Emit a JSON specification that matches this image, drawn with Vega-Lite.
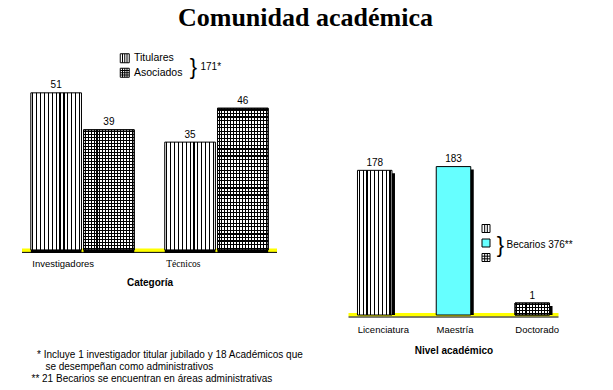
{
  "$schema": "https://vega.github.io/schema/vega-lite/v6.json",
  "background": "white",
  "padding": {"left": 20, "top": 5, "right": 0, "bottom": 0},
  "title": {"text": "Comunidad académica", "font": "Liberation Serif", "fontSize": 26, "fontWeight": "bold", "color": "black", "anchor": "middle", "frame": "bounds", "dx": 9, "offset": 8},
  "bounds": "flush",
  "spacing": 71.5,
  "resolve": {"scale": {"shape": "independent", "fill": "independent", "stroke": "independent"}, "legend": {"shape": "independent", "fill": "independent", "stroke": "independent"}},
  "config": {
    "view": {"stroke": null},
    "axis": {"titleFont": "Liberation Sans", "labelColor": "black", "titleColor": "black"}
  },
  "hconcat": [
    {
      "width": 255,
      "height": 214,
      "title": {
        "text": ["\u200b\u00a0\u00a0* Incluye 1 investigador titular jubilado y 18 Académicos que", "\u200b\u00a0\u00a0\u00a0\u00a0\u00a0se desempeñan como administrativos", "** 21 Becarios se encuentran en áreas administrativas"],
        "orient": "bottom", "anchor": "start", "frame": "group", "dx": 9.5, "offset": 62,
        "font": "Liberation Sans", "fontSize": 10, "fontWeight": "normal", "color": "black", "lineHeight": 12
      },
      "layer": [
        {"data": {"values": [{}]}, "mark": {"type": "rule", "color": "#FFFF00", "strokeWidth": 3.5}, "encoding": {"y": {"datum": -0.13, "type": "quantitative", "axis": null}}},
        {"data": {"values": [{}]}, "mark": {"type": "rule", "color": "black", "strokeWidth": 1}, "encoding": {"y": {"datum": -0.8, "type": "quantitative", "axis": null}}},
        {
          "data": {"values": [
            {"categoria": "Investigadores", "tipo": "Titulares", "n": 51},
            {"categoria": "Investigadores", "tipo": "Asociados", "n": 39},
            {"categoria": "Técnicos", "tipo": "Titulares", "n": 35},
            {"categoria": "Técnicos", "tipo": "Asociados", "n": 46}
          ]},
          "encoding": {
            "x": {"field": "categoria", "type": "nominal", "scale": {"domain": ["Investigadores", "Técnicos"], "paddingInner": 0.228, "paddingOuter": 0.066},
              "axis": {"title": "Categoría", "titleFontSize": 10, "titleFontWeight": "bold", "titlePadding": 10, "labelAngle": 0, "labelAlign": "left", "labelOffset": -50.2, "labelPadding": 5, "labelFontSize": 9.5, "labelFont": {"expr": "datum.value === 'Técnicos' ? 'Liberation Serif' : 'Liberation Sans'"}, "ticks": false, "domain": false, "grid": false}},
            "xOffset": {"field": "tipo", "type": "nominal", "scale": {"domain": ["Titulares", "Asociados"], "paddingInner": 0.04, "paddingOuter": 0}},
            "y": {"field": "n", "type": "quantitative", "scale": {"domain": [-1, 68.48], "nice": false}, "axis": null}
          },
          "layer": [
            {"mark": {"type": "point", "opacity": 0, "filled": false, "color": "black", "strokeWidth": 1},
             "encoding": {"shape": {"field": "tipo", "type": "nominal",
               "scale": {"domain": ["Titulares", "Asociados"], "range": ["M-1,-1H1V1H-1Z M-0.5,-1V1 M0,-1V1 M0.5,-1V1", "M-1,-1H1V1H-1Z M-0.5,-1V1 M0,-1V1 M0.5,-1V1 M-1,-0.5H1 M-1,0H1 M-1,0.5H1"]},
               "legend": {"orient": "none", "legendX": 97.5, "legendY": 14, "title": null, "padding": 0, "symbolSize": 81, "symbolOpacity": 1, "symbolFillColor": "white", "symbolStrokeColor": "black", "symbolStrokeWidth": 1, "labelFont": "Liberation Sans", "labelFontSize": 10.5, "labelColor": "black", "labelOffset": 4, "rowPadding": 0.5}}}},
            {"mark": {"type": "bar", "fill": "black", "xOffset": 3, "yOffset": 3}},
            {"transform": [{"filter": "datum.tipo === 'Titulares'"}],
             "mark": {"type": "bar", "stroke": "black", "strokeWidth": 1, "fill": {"gradient": "linear", "x1": 0, "y1": 0, "x2": 1, "y2": 0, "stops": [
               {"offset": 0, "color": "white"},
               {"offset": 0.0269, "color": "white"}, {"offset": 0.0269, "color": "black"}, {"offset": 0.05, "color": "black"}, {"offset": 0.05, "color": "white"},
               {"offset": 0.1038, "color": "white"}, {"offset": 0.1038, "color": "black"}, {"offset": 0.1269, "color": "black"}, {"offset": 0.1269, "color": "white"},
               {"offset": 0.1808, "color": "white"}, {"offset": 0.1808, "color": "black"}, {"offset": 0.2038, "color": "black"}, {"offset": 0.2038, "color": "white"},
               {"offset": 0.2577, "color": "white"}, {"offset": 0.2577, "color": "black"}, {"offset": 0.2808, "color": "black"}, {"offset": 0.2808, "color": "white"},
               {"offset": 0.3346, "color": "white"}, {"offset": 0.3346, "color": "black"}, {"offset": 0.3577, "color": "black"}, {"offset": 0.3577, "color": "white"},
               {"offset": 0.4115, "color": "white"}, {"offset": 0.4115, "color": "black"}, {"offset": 0.4346, "color": "black"}, {"offset": 0.4346, "color": "white"},
               {"offset": 0.4885, "color": "white"}, {"offset": 0.4885, "color": "black"}, {"offset": 0.5115, "color": "black"}, {"offset": 0.5115, "color": "white"},
               {"offset": 0.5654, "color": "white"}, {"offset": 0.5654, "color": "black"}, {"offset": 0.5885, "color": "black"}, {"offset": 0.5885, "color": "white"},
               {"offset": 0.6423, "color": "white"}, {"offset": 0.6423, "color": "black"}, {"offset": 0.6654, "color": "black"}, {"offset": 0.6654, "color": "white"},
               {"offset": 0.7192, "color": "white"}, {"offset": 0.7192, "color": "black"}, {"offset": 0.7423, "color": "black"}, {"offset": 0.7423, "color": "white"},
               {"offset": 0.7962, "color": "white"}, {"offset": 0.7962, "color": "black"}, {"offset": 0.8192, "color": "black"}, {"offset": 0.8192, "color": "white"},
               {"offset": 0.8731, "color": "white"}, {"offset": 0.8731, "color": "black"}, {"offset": 0.8962, "color": "black"}, {"offset": 0.8962, "color": "white"},
               {"offset": 0.95, "color": "white"}, {"offset": 0.95, "color": "black"}, {"offset": 0.9731, "color": "black"}, {"offset": 0.9731, "color": "white"},
               {"offset": 1, "color": "white"}]}}},
            {"transform": [{"filter": "datum.tipo === 'Asociados'"}],
             "mark": {"type": "bar", "stroke": "black", "strokeWidth": 1, "fill": {"gradient": "linear", "x1": 0, "y1": 0, "x2": 1, "y2": 0, "stops": [
               {"offset": 0, "color": "white"},
               {"offset": 0.0194, "color": "white"}, {"offset": 0.0194, "color": "black"}, {"offset": 0.0394, "color": "black"}, {"offset": 0.0394, "color": "white"},
               {"offset": 0.0782, "color": "white"}, {"offset": 0.0782, "color": "black"}, {"offset": 0.0982, "color": "black"}, {"offset": 0.0982, "color": "white"},
               {"offset": 0.1371, "color": "white"}, {"offset": 0.1371, "color": "black"}, {"offset": 0.1571, "color": "black"}, {"offset": 0.1571, "color": "white"},
               {"offset": 0.1959, "color": "white"}, {"offset": 0.1959, "color": "black"}, {"offset": 0.2159, "color": "black"}, {"offset": 0.2159, "color": "white"},
               {"offset": 0.2547, "color": "white"}, {"offset": 0.2547, "color": "black"}, {"offset": 0.2747, "color": "black"}, {"offset": 0.2747, "color": "white"},
               {"offset": 0.3135, "color": "white"}, {"offset": 0.3135, "color": "black"}, {"offset": 0.3335, "color": "black"}, {"offset": 0.3335, "color": "white"},
               {"offset": 0.3724, "color": "white"}, {"offset": 0.3724, "color": "black"}, {"offset": 0.3924, "color": "black"}, {"offset": 0.3924, "color": "white"},
               {"offset": 0.4312, "color": "white"}, {"offset": 0.4312, "color": "black"}, {"offset": 0.4512, "color": "black"}, {"offset": 0.4512, "color": "white"},
               {"offset": 0.49, "color": "white"}, {"offset": 0.49, "color": "black"}, {"offset": 0.51, "color": "black"}, {"offset": 0.51, "color": "white"},
               {"offset": 0.5488, "color": "white"}, {"offset": 0.5488, "color": "black"}, {"offset": 0.5688, "color": "black"}, {"offset": 0.5688, "color": "white"},
               {"offset": 0.6076, "color": "white"}, {"offset": 0.6076, "color": "black"}, {"offset": 0.6276, "color": "black"}, {"offset": 0.6276, "color": "white"},
               {"offset": 0.6665, "color": "white"}, {"offset": 0.6665, "color": "black"}, {"offset": 0.6865, "color": "black"}, {"offset": 0.6865, "color": "white"},
               {"offset": 0.7253, "color": "white"}, {"offset": 0.7253, "color": "black"}, {"offset": 0.7453, "color": "black"}, {"offset": 0.7453, "color": "white"},
               {"offset": 0.7841, "color": "white"}, {"offset": 0.7841, "color": "black"}, {"offset": 0.8041, "color": "black"}, {"offset": 0.8041, "color": "white"},
               {"offset": 0.8429, "color": "white"}, {"offset": 0.8429, "color": "black"}, {"offset": 0.8629, "color": "black"}, {"offset": 0.8629, "color": "white"},
               {"offset": 0.9018, "color": "white"}, {"offset": 0.9018, "color": "black"}, {"offset": 0.9218, "color": "black"}, {"offset": 0.9218, "color": "white"},
               {"offset": 0.9606, "color": "white"}, {"offset": 0.9606, "color": "black"}, {"offset": 0.9806, "color": "black"}, {"offset": 0.9806, "color": "white"},
               {"offset": 1, "color": "white"}]}}},
            {"transform": [{"filter": "datum.tipo === 'Asociados'"}],
             "mark": {"type": "bar", "stroke": "black", "strokeWidth": 1, "fill": {"gradient": "linear", "x1": 0, "y1": 0, "x2": 0, "y2": 1, "stops": [
               {"offset": 0, "color": "rgba(0,0,0,0)"},
               {"offset": 0.00825, "color": "rgba(0,0,0,0)"}, {"offset": 0.00825, "color": "black"}, {"offset": 0.01675, "color": "black"}, {"offset": 0.01675, "color": "rgba(0,0,0,0)"},
               {"offset": 0.03325, "color": "rgba(0,0,0,0)"}, {"offset": 0.03325, "color": "black"}, {"offset": 0.04175, "color": "black"}, {"offset": 0.04175, "color": "rgba(0,0,0,0)"},
               {"offset": 0.05825, "color": "rgba(0,0,0,0)"}, {"offset": 0.05825, "color": "black"}, {"offset": 0.06675, "color": "black"}, {"offset": 0.06675, "color": "rgba(0,0,0,0)"},
               {"offset": 0.08325, "color": "rgba(0,0,0,0)"}, {"offset": 0.08325, "color": "black"}, {"offset": 0.09175, "color": "black"}, {"offset": 0.09175, "color": "rgba(0,0,0,0)"},
               {"offset": 0.10825, "color": "rgba(0,0,0,0)"}, {"offset": 0.10825, "color": "black"}, {"offset": 0.11675, "color": "black"}, {"offset": 0.11675, "color": "rgba(0,0,0,0)"},
               {"offset": 0.13325, "color": "rgba(0,0,0,0)"}, {"offset": 0.13325, "color": "black"}, {"offset": 0.14175, "color": "black"}, {"offset": 0.14175, "color": "rgba(0,0,0,0)"},
               {"offset": 0.15825, "color": "rgba(0,0,0,0)"}, {"offset": 0.15825, "color": "black"}, {"offset": 0.16675, "color": "black"}, {"offset": 0.16675, "color": "rgba(0,0,0,0)"},
               {"offset": 0.18325, "color": "rgba(0,0,0,0)"}, {"offset": 0.18325, "color": "black"}, {"offset": 0.19175, "color": "black"}, {"offset": 0.19175, "color": "rgba(0,0,0,0)"},
               {"offset": 0.20825, "color": "rgba(0,0,0,0)"}, {"offset": 0.20825, "color": "black"}, {"offset": 0.21675, "color": "black"}, {"offset": 0.21675, "color": "rgba(0,0,0,0)"},
               {"offset": 0.23325, "color": "rgba(0,0,0,0)"}, {"offset": 0.23325, "color": "black"}, {"offset": 0.24175, "color": "black"}, {"offset": 0.24175, "color": "rgba(0,0,0,0)"},
               {"offset": 0.25825, "color": "rgba(0,0,0,0)"}, {"offset": 0.25825, "color": "black"}, {"offset": 0.26675, "color": "black"}, {"offset": 0.26675, "color": "rgba(0,0,0,0)"},
               {"offset": 0.28325, "color": "rgba(0,0,0,0)"}, {"offset": 0.28325, "color": "black"}, {"offset": 0.29175, "color": "black"}, {"offset": 0.29175, "color": "rgba(0,0,0,0)"},
               {"offset": 0.30825, "color": "rgba(0,0,0,0)"}, {"offset": 0.30825, "color": "black"}, {"offset": 0.31675, "color": "black"}, {"offset": 0.31675, "color": "rgba(0,0,0,0)"},
               {"offset": 0.33325, "color": "rgba(0,0,0,0)"}, {"offset": 0.33325, "color": "black"}, {"offset": 0.34175, "color": "black"}, {"offset": 0.34175, "color": "rgba(0,0,0,0)"},
               {"offset": 0.35825, "color": "rgba(0,0,0,0)"}, {"offset": 0.35825, "color": "black"}, {"offset": 0.36675, "color": "black"}, {"offset": 0.36675, "color": "rgba(0,0,0,0)"},
               {"offset": 0.38325, "color": "rgba(0,0,0,0)"}, {"offset": 0.38325, "color": "black"}, {"offset": 0.39175, "color": "black"}, {"offset": 0.39175, "color": "rgba(0,0,0,0)"},
               {"offset": 0.40825, "color": "rgba(0,0,0,0)"}, {"offset": 0.40825, "color": "black"}, {"offset": 0.41675, "color": "black"}, {"offset": 0.41675, "color": "rgba(0,0,0,0)"},
               {"offset": 0.43325, "color": "rgba(0,0,0,0)"}, {"offset": 0.43325, "color": "black"}, {"offset": 0.44175, "color": "black"}, {"offset": 0.44175, "color": "rgba(0,0,0,0)"},
               {"offset": 0.45825, "color": "rgba(0,0,0,0)"}, {"offset": 0.45825, "color": "black"}, {"offset": 0.46675, "color": "black"}, {"offset": 0.46675, "color": "rgba(0,0,0,0)"},
               {"offset": 0.48325, "color": "rgba(0,0,0,0)"}, {"offset": 0.48325, "color": "black"}, {"offset": 0.49175, "color": "black"}, {"offset": 0.49175, "color": "rgba(0,0,0,0)"},
               {"offset": 0.50825, "color": "rgba(0,0,0,0)"}, {"offset": 0.50825, "color": "black"}, {"offset": 0.51675, "color": "black"}, {"offset": 0.51675, "color": "rgba(0,0,0,0)"},
               {"offset": 0.53325, "color": "rgba(0,0,0,0)"}, {"offset": 0.53325, "color": "black"}, {"offset": 0.54175, "color": "black"}, {"offset": 0.54175, "color": "rgba(0,0,0,0)"},
               {"offset": 0.55825, "color": "rgba(0,0,0,0)"}, {"offset": 0.55825, "color": "black"}, {"offset": 0.56675, "color": "black"}, {"offset": 0.56675, "color": "rgba(0,0,0,0)"},
               {"offset": 0.58325, "color": "rgba(0,0,0,0)"}, {"offset": 0.58325, "color": "black"}, {"offset": 0.59175, "color": "black"}, {"offset": 0.59175, "color": "rgba(0,0,0,0)"},
               {"offset": 0.60825, "color": "rgba(0,0,0,0)"}, {"offset": 0.60825, "color": "black"}, {"offset": 0.61675, "color": "black"}, {"offset": 0.61675, "color": "rgba(0,0,0,0)"},
               {"offset": 0.63325, "color": "rgba(0,0,0,0)"}, {"offset": 0.63325, "color": "black"}, {"offset": 0.64175, "color": "black"}, {"offset": 0.64175, "color": "rgba(0,0,0,0)"},
               {"offset": 0.65825, "color": "rgba(0,0,0,0)"}, {"offset": 0.65825, "color": "black"}, {"offset": 0.66675, "color": "black"}, {"offset": 0.66675, "color": "rgba(0,0,0,0)"},
               {"offset": 0.68325, "color": "rgba(0,0,0,0)"}, {"offset": 0.68325, "color": "black"}, {"offset": 0.69175, "color": "black"}, {"offset": 0.69175, "color": "rgba(0,0,0,0)"},
               {"offset": 0.70825, "color": "rgba(0,0,0,0)"}, {"offset": 0.70825, "color": "black"}, {"offset": 0.71675, "color": "black"}, {"offset": 0.71675, "color": "rgba(0,0,0,0)"},
               {"offset": 0.73325, "color": "rgba(0,0,0,0)"}, {"offset": 0.73325, "color": "black"}, {"offset": 0.74175, "color": "black"}, {"offset": 0.74175, "color": "rgba(0,0,0,0)"},
               {"offset": 0.75825, "color": "rgba(0,0,0,0)"}, {"offset": 0.75825, "color": "black"}, {"offset": 0.76675, "color": "black"}, {"offset": 0.76675, "color": "rgba(0,0,0,0)"},
               {"offset": 0.78325, "color": "rgba(0,0,0,0)"}, {"offset": 0.78325, "color": "black"}, {"offset": 0.79175, "color": "black"}, {"offset": 0.79175, "color": "rgba(0,0,0,0)"},
               {"offset": 0.80825, "color": "rgba(0,0,0,0)"}, {"offset": 0.80825, "color": "black"}, {"offset": 0.81675, "color": "black"}, {"offset": 0.81675, "color": "rgba(0,0,0,0)"},
               {"offset": 0.83325, "color": "rgba(0,0,0,0)"}, {"offset": 0.83325, "color": "black"}, {"offset": 0.84175, "color": "black"}, {"offset": 0.84175, "color": "rgba(0,0,0,0)"},
               {"offset": 0.85825, "color": "rgba(0,0,0,0)"}, {"offset": 0.85825, "color": "black"}, {"offset": 0.86675, "color": "black"}, {"offset": 0.86675, "color": "rgba(0,0,0,0)"},
               {"offset": 0.88325, "color": "rgba(0,0,0,0)"}, {"offset": 0.88325, "color": "black"}, {"offset": 0.89175, "color": "black"}, {"offset": 0.89175, "color": "rgba(0,0,0,0)"},
               {"offset": 0.90825, "color": "rgba(0,0,0,0)"}, {"offset": 0.90825, "color": "black"}, {"offset": 0.91675, "color": "black"}, {"offset": 0.91675, "color": "rgba(0,0,0,0)"},
               {"offset": 0.93325, "color": "rgba(0,0,0,0)"}, {"offset": 0.93325, "color": "black"}, {"offset": 0.94175, "color": "black"}, {"offset": 0.94175, "color": "rgba(0,0,0,0)"},
               {"offset": 0.95825, "color": "rgba(0,0,0,0)"}, {"offset": 0.95825, "color": "black"}, {"offset": 0.96675, "color": "black"}, {"offset": 0.96675, "color": "rgba(0,0,0,0)"},
               {"offset": 0.98325, "color": "rgba(0,0,0,0)"}, {"offset": 0.98325, "color": "black"}, {"offset": 0.99175, "color": "black"}, {"offset": 0.99175, "color": "rgba(0,0,0,0)"},
               {"offset": 1, "color": "rgba(0,0,0,0)"}]}}},
            {"mark": {"type": "text", "dy": -7.5, "fontSize": 10, "font": "Liberation Sans", "color": "black"},
             "encoding": {"text": {"field": "n", "type": "quantitative"}}}
          ]
        },
        {"data": {"values": [{}]}, "mark": {"type": "text", "text": "}", "fontSize": 22, "font": "Liberation Sans", "align": "center", "baseline": "middle", "dx": 44, "color": "black"},
         "encoding": {"y": {"datum": 59.4, "type": "quantitative", "axis": null}}},
        {"data": {"values": [{}]}, "mark": {"type": "text", "text": "171*", "fontSize": 10, "font": "Liberation Sans", "align": "left", "baseline": "middle", "dx": 51, "color": "black"},
         "encoding": {"y": {"datum": 59.4, "type": "quantitative", "axis": null}}}
      ]
    },
    {
      "width": 210,
      "height": 279,
      "layer": [
        {"data": {"values": [{}]}, "mark": {"type": "rule", "color": "#FFFF00", "strokeWidth": 3.5}, "encoding": {"y": {"datum": -14.7, "type": "quantitative", "axis": null}}},
        {"data": {"values": [{}]}, "mark": {"type": "rule", "color": "black", "strokeWidth": 1}, "encoding": {"y": {"datum": -17.7, "type": "quantitative", "axis": null}}},
        {
          "data": {"values": [
            {"nivel": "Licenciatura", "n": 178},
            {"nivel": "Maestría", "n": 183},
            {"nivel": "Doctorado", "n": 1}
          ]},
          "encoding": {
            "x": {"field": "nivel", "type": "nominal", "scale": {"domain": ["Licenciatura", "Maestría", "Doctorado"], "paddingInner": 0.562, "paddingOuter": 0.114},
              "axis": {"title": "Nivel académico", "titleFontSize": 10, "titleFontWeight": "bold", "titlePadding": 12, "labelAngle": 0, "labelAlign": "left", "labelOffset": -17, "labelPadding": 6, "labelFontSize": 9.5, "labelFont": "Liberation Sans", "ticks": false, "domain": false, "grid": false}},
            "y": {"field": "n", "type": "quantitative", "scale": {"domain": [-19, 353.2], "nice": false, "zero": false}, "axis": null}
          },
          "layer": [
            {"mark": {"type": "point", "opacity": 0, "filled": true, "strokeWidth": 1},
             "encoding": {
               "shape": {"field": "nivel", "type": "nominal",
                 "scale": {"domain": ["Licenciatura", "Maestría", "Doctorado"], "range": ["M-1,-1H1V1H-1Z M-0.33,-1V1 M0.33,-1V1", "square", "M-1,-1H1V1H-1Z M-0.33,-1V1 M0.33,-1V1 M-1,-0.33H1 M-1,0.33H1"]},
                 "legend": {"orient": "none", "legendX": 133, "legendY": 185, "title": null, "padding": 0, "symbolSize": 64, "symbolOpacity": 1, "symbolStrokeWidth": 1, "labelExpr": "''", "labelFontSize": 9, "rowPadding": 1.5}},
               "fill": {"field": "nivel", "type": "nominal",
                 "scale": {"domain": ["Licenciatura", "Maestría", "Doctorado"], "range": ["white", "#66FFFF", "white"]},
                 "legend": {"orient": "none", "legendX": 133, "legendY": 185, "title": null, "padding": 0, "symbolSize": 64, "symbolOpacity": 1, "symbolStrokeWidth": 1, "labelExpr": "''", "labelFontSize": 9, "rowPadding": 1.5}},
               "stroke": {"field": "nivel", "type": "nominal",
                 "scale": {"domain": ["Licenciatura", "Maestría", "Doctorado"], "range": ["black", "black", "black"]},
                 "legend": {"orient": "none", "legendX": 133, "legendY": 185, "title": null, "padding": 0, "symbolSize": 64, "symbolOpacity": 1, "symbolStrokeWidth": 1, "labelExpr": "''", "labelFontSize": 9, "rowPadding": 1.5}}}},
            {"mark": {"type": "bar", "fill": "black", "xOffset": 3, "yOffset": 3},
             "encoding": {"y2": {"datum": -15}}},
            {"transform": [{"filter": "datum.nivel === 'Licenciatura'"}],
             "mark": {"type": "bar", "stroke": "black", "strokeWidth": 1, "fill": {"gradient": "linear", "x1": 0, "y1": 0, "x2": 1, "y2": 0, "stops": [
               {"offset": 0, "color": "white"},
               {"offset": 0.0389, "color": "white"}, {"offset": 0.0389, "color": "black"}, {"offset": 0.0722, "color": "black"}, {"offset": 0.0722, "color": "white"},
               {"offset": 0.15, "color": "white"}, {"offset": 0.15, "color": "black"}, {"offset": 0.1833, "color": "black"}, {"offset": 0.1833, "color": "white"},
               {"offset": 0.2611, "color": "white"}, {"offset": 0.2611, "color": "black"}, {"offset": 0.2944, "color": "black"}, {"offset": 0.2944, "color": "white"},
               {"offset": 0.3722, "color": "white"}, {"offset": 0.3722, "color": "black"}, {"offset": 0.4056, "color": "black"}, {"offset": 0.4056, "color": "white"},
               {"offset": 0.4833, "color": "white"}, {"offset": 0.4833, "color": "black"}, {"offset": 0.5167, "color": "black"}, {"offset": 0.5167, "color": "white"},
               {"offset": 0.5944, "color": "white"}, {"offset": 0.5944, "color": "black"}, {"offset": 0.6278, "color": "black"}, {"offset": 0.6278, "color": "white"},
               {"offset": 0.7056, "color": "white"}, {"offset": 0.7056, "color": "black"}, {"offset": 0.7389, "color": "black"}, {"offset": 0.7389, "color": "white"},
               {"offset": 0.8167, "color": "white"}, {"offset": 0.8167, "color": "black"}, {"offset": 0.85, "color": "black"}, {"offset": 0.85, "color": "white"},
               {"offset": 0.9278, "color": "white"}, {"offset": 0.9278, "color": "black"}, {"offset": 0.9611, "color": "black"}, {"offset": 0.9611, "color": "white"},
               {"offset": 1, "color": "white"}]}},
             "encoding": {"y2": {"datum": -15}}},
            {"transform": [{"filter": "datum.nivel === 'Maestría'"}],
             "mark": {"type": "bar", "stroke": "black", "strokeWidth": 1, "fill": "#66FFFF"},
             "encoding": {"y2": {"datum": -15}}},
            {"transform": [{"filter": "datum.nivel === 'Doctorado'"}],
             "mark": {"type": "bar", "stroke": "black", "strokeWidth": 1, "fill": {"gradient": "linear", "x1": 0, "y1": 0, "x2": 1, "y2": 0, "stops": [
               {"offset": 0, "color": "white"},
               {"offset": 0.03, "color": "white"}, {"offset": 0.03, "color": "black"}, {"offset": 0.0609, "color": "black"}, {"offset": 0.0609, "color": "white"},
               {"offset": 0.1209, "color": "white"}, {"offset": 0.1209, "color": "black"}, {"offset": 0.1518, "color": "black"}, {"offset": 0.1518, "color": "white"},
               {"offset": 0.2118, "color": "white"}, {"offset": 0.2118, "color": "black"}, {"offset": 0.2427, "color": "black"}, {"offset": 0.2427, "color": "white"},
               {"offset": 0.3027, "color": "white"}, {"offset": 0.3027, "color": "black"}, {"offset": 0.3336, "color": "black"}, {"offset": 0.3336, "color": "white"},
               {"offset": 0.3936, "color": "white"}, {"offset": 0.3936, "color": "black"}, {"offset": 0.4245, "color": "black"}, {"offset": 0.4245, "color": "white"},
               {"offset": 0.4845, "color": "white"}, {"offset": 0.4845, "color": "black"}, {"offset": 0.5155, "color": "black"}, {"offset": 0.5155, "color": "white"},
               {"offset": 0.5755, "color": "white"}, {"offset": 0.5755, "color": "black"}, {"offset": 0.6064, "color": "black"}, {"offset": 0.6064, "color": "white"},
               {"offset": 0.6664, "color": "white"}, {"offset": 0.6664, "color": "black"}, {"offset": 0.6973, "color": "black"}, {"offset": 0.6973, "color": "white"},
               {"offset": 0.7573, "color": "white"}, {"offset": 0.7573, "color": "black"}, {"offset": 0.7882, "color": "black"}, {"offset": 0.7882, "color": "white"},
               {"offset": 0.8482, "color": "white"}, {"offset": 0.8482, "color": "black"}, {"offset": 0.8791, "color": "black"}, {"offset": 0.8791, "color": "white"},
               {"offset": 0.9391, "color": "white"}, {"offset": 0.9391, "color": "black"}, {"offset": 0.97, "color": "black"}, {"offset": 0.97, "color": "white"},
               {"offset": 1, "color": "white"}]}},
             "encoding": {"y2": {"datum": -15}}},
            {"transform": [{"filter": "datum.nivel === 'Doctorado'"}],
             "mark": {"type": "bar", "stroke": "black", "strokeWidth": 1, "fill": {"gradient": "linear", "x1": 0, "y1": 0, "x2": 0, "y2": 1, "stops": [
               {"offset": 0, "color": "rgba(0,0,0,0)"},
               {"offset": 0.0825, "color": "rgba(0,0,0,0)"}, {"offset": 0.0825, "color": "black"}, {"offset": 0.1675, "color": "black"}, {"offset": 0.1675, "color": "rgba(0,0,0,0)"},
               {"offset": 0.3325, "color": "rgba(0,0,0,0)"}, {"offset": 0.3325, "color": "black"}, {"offset": 0.4175, "color": "black"}, {"offset": 0.4175, "color": "rgba(0,0,0,0)"},
               {"offset": 0.5825, "color": "rgba(0,0,0,0)"}, {"offset": 0.5825, "color": "black"}, {"offset": 0.6675, "color": "black"}, {"offset": 0.6675, "color": "rgba(0,0,0,0)"},
               {"offset": 0.8325, "color": "rgba(0,0,0,0)"}, {"offset": 0.8325, "color": "black"}, {"offset": 0.9175, "color": "black"}, {"offset": 0.9175, "color": "rgba(0,0,0,0)"},
               {"offset": 1, "color": "rgba(0,0,0,0)"}]}},
             "encoding": {"y2": {"datum": -15}}},
            {"mark": {"type": "text", "dy": -7.5, "fontSize": 10, "font": "Liberation Sans", "color": "black"},
             "encoding": {"text": {"field": "n", "type": "quantitative"}}}
          ]
        },
        {"data": {"values": [{}]}, "mark": {"type": "text", "text": "}", "fontSize": 22, "font": "Liberation Sans", "align": "center", "baseline": "middle", "dx": 47, "color": "black"},
         "encoding": {"y": {"datum": 78, "type": "quantitative", "axis": null}}},
        {"data": {"values": [{}]}, "mark": {"type": "text", "text": "Becarios 376**", "fontSize": 10, "font": "Liberation Sans", "align": "left", "baseline": "middle", "dx": 53, "color": "black"},
         "encoding": {"y": {"datum": 78, "type": "quantitative", "axis": null}}}
      ]
    }
  ]
}
